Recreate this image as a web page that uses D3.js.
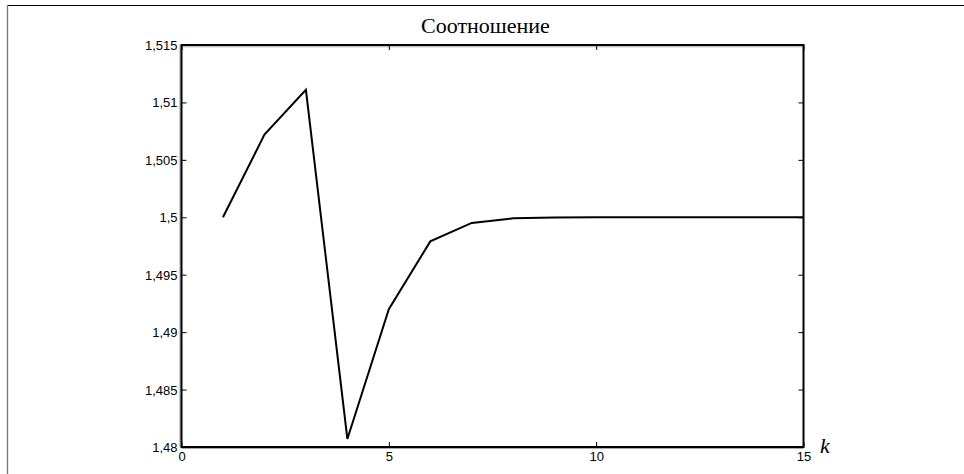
<!DOCTYPE html>
<html>
<head>
<meta charset="utf-8">
<script src="https://cdn.jsdelivr.net/npm/d3@7"></script>
<style>
  html, body { margin: 0; padding: 0; background: #fff; }
  svg { display: block; }
</style>
</head>
<body>
<svg id="chart" width="964" height="474"></svg>
<script>
const kValues = [1, 2, 3, 4, 5, 6, 7, 8, 9, 10, 11, 12, 13, 14, 15];
const ratioValues = [1.5, 1.5072, 1.5111, 1.4807, 1.4920, 1.4979, 1.49951, 1.49991, 1.49998, 1.5, 1.5, 1.5, 1.5, 1.5, 1.5];
const xTicks = [0, 5, 10, 15];
const yTicks = [1.48, 1.485, 1.49, 1.495, 1.5, 1.505, 1.51, 1.515];
const titleText = "Соотношение";
const xLabel = "k";

(function () {
const svg = d3.select("#chart");
const L = 181.5, R = 803.5, T = 45, B = 447;
const x = d3.scaleLinear().domain([0, 15]).range([L, R]);
const y = d3.scaleLinear().domain([1.48, 1.515]).range([B, T]);
const fmt = v => String(+v.toFixed(4)).replace(".", ",");

// outer page frame
svg.append("line").attr("x1", 7).attr("x2", 964).attr("y1", 5.5).attr("y2", 5.5)
  .attr("stroke", "#000").attr("stroke-width", 1);
svg.append("line").attr("x1", 7.5).attr("x2", 7.5).attr("y1", 5).attr("y2", 474)
  .attr("stroke", "#777").attr("stroke-width", 1.3);

// shading lines of the plot box
svg.append("line").attr("x1", L - 1.5).attr("x2", L - 1.5).attr("y1", T).attr("y2", B)
  .attr("stroke", "#999").attr("stroke-width", 1);
svg.append("line").attr("x1", L).attr("x2", R).attr("y1", T + 1.8).attr("y2", T + 1.8)
  .attr("stroke", "#aaa").attr("stroke-width", 1);
svg.append("line").attr("x1", L).attr("x2", R).attr("y1", B + 1.5).attr("y2", B + 1.5)
  .attr("stroke", "#aaa").attr("stroke-width", 1);

// axes with inner ticks
const axFont = "13px 'Liberation Sans', Arial, sans-serif";
const gBottom = svg.append("g").attr("transform", `translate(0,${B})`)
  .call(d3.axisBottom(x).tickValues(xTicks).tickSize(-5).tickPadding(3).tickFormat(d => d));
const gTop = svg.append("g").attr("transform", `translate(0,${T})`)
  .call(d3.axisTop(x).tickValues(xTicks).tickSize(-5).tickFormat(""));
const gLeft = svg.append("g").attr("transform", `translate(${L},0)`)
  .call(d3.axisLeft(y).tickValues(yTicks).tickSize(-5).tickPadding(4).tickFormat(fmt));
const gRight = svg.append("g").attr("transform", `translate(${R},0)`)
  .call(d3.axisRight(y).tickValues(yTicks).tickSize(-5).tickFormat(""));

[gBottom, gTop, gLeft, gRight].forEach(g => {
  g.select(".domain").remove();
  g.selectAll(".tick line").attr("stroke", "#000").attr("stroke-width", 1);
  g.selectAll("text").style("font", axFont).attr("fill", "#000");
});
gBottom.selectAll("text").attr("dy", "0.85em");
gLeft.selectAll("text").attr("dy", "0.35em");

// plot box
svg.append("rect").attr("x", L).attr("y", T).attr("width", R - L).attr("height", B - T)
  .attr("fill", "none").attr("stroke", "#000").attr("stroke-width", 2);

// data line
const line = d3.line().x((d, i) => x(kValues[i])).y(d => y(d));
svg.append("path").datum(ratioValues).attr("d", line)
  .attr("fill", "none").attr("stroke", "#000").attr("stroke-width", 2)
  .attr("stroke-linejoin", "miter");

// title
svg.append("text").attr("x", 485.5).attr("y", 33).attr("text-anchor", "middle")
  .style("font", "22px 'Liberation Serif', 'Times New Roman', serif").text(titleText);

// x label
svg.append("text").attr("x", 820).attr("y", 453)
  .style("font", "italic 22px 'Liberation Serif', 'Times New Roman', serif").text(xLabel);
})();
</script>
</body>
</html>
